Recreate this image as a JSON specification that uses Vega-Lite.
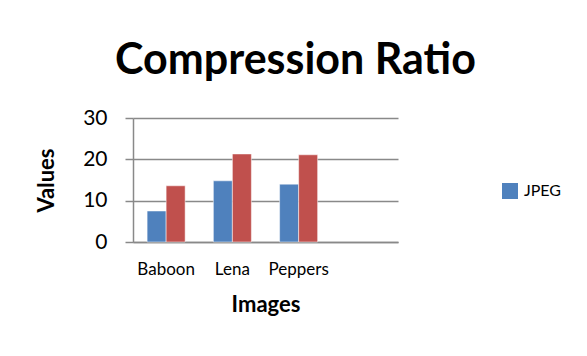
{
  "$schema": "https://vega.github.io/schema/vega-lite/v6.json",
  "autosize": "none",
  "width": 265,
  "height": 124,
  "padding": {"left": 133, "top": 118, "right": 189, "bottom": 114},
  "background": "white",
  "config": {
    "font": "Lato",
    "view": {"stroke": null}
  },
  "title": {
    "text": "Compression Ratio",
    "font": "Lato",
    "fontSize": 43,
    "fontWeight": "bold",
    "color": "#000000",
    "anchor": "middle",
    "dx": 30,
    "offset": 24
  },
  "data": {
    "values": [
      {"image": "Baboon", "series": "JPEG", "value": 7.5},
      {"image": "Baboon", "series": "Series2", "value": 13.6},
      {"image": "Lena", "series": "JPEG", "value": 14.8},
      {"image": "Lena", "series": "Series2", "value": 21.3},
      {"image": "Peppers", "series": "JPEG", "value": 14.0},
      {"image": "Peppers", "series": "Series2", "value": 21.1}
    ]
  },
  "mark": {"type": "bar", "strokeWidth": 0.5},
  "encoding": {
    "x": {
      "field": "image",
      "type": "nominal",
      "sort": null,
      "scale": {"domain": ["Baboon", "Lena", "Peppers", ""], "paddingInner": 0.426, "paddingOuter": 0.213},
      "axis": {
        "title": "Images",
        "titleFont": "Lato",
        "titleFontSize": 22,
        "titleFontWeight": "bold",
        "titleColor": "#000000",
        "titlePadding": 17,
        "labelFont": "Lato",
        "labelFontSize": 17,
        "labelColor": "#000000",
        "labelAngle": 0,
        "labelPadding": 19,
        "ticks": false,
        "domainColor": "#898989",
        "domainWidth": 1.5,
        "grid": false
      }
    },
    "xOffset": {
      "field": "series",
      "type": "nominal",
      "sort": ["JPEG", "Series2"],
      "scale": {"paddingInner": 0, "paddingOuter": 0}
    },
    "y": {
      "field": "value",
      "type": "quantitative",
      "scale": {"domain": [0, 30], "nice": false},
      "axis": {
        "values": [0, 10, 20, 30],
        "title": "Values",
        "titleFont": "Lato",
        "titleFontSize": 22,
        "titleFontWeight": "bold",
        "titleColor": "#000000",
        "titlePadding": 24,
        "labelFont": "Lato",
        "labelFontSize": 21,
        "labelColor": "#000000",
        "labelPadding": 18,
        "tickSize": 8,
        "tickColor": "#898989",
        "tickWidth": 1.5,
        "domainColor": "#898989",
        "domainWidth": 1.5,
        "gridColor": "#898989",
        "gridWidth": 1.5
      }
    },
    "color": {
      "field": "series",
      "type": "nominal",
      "scale": {"domain": ["JPEG", "Series2"], "range": ["#4F81BD", "#C0504D"]},
      "legend": {
        "values": ["JPEG"],
        "title": null,
        "orient": "none",
        "legendX": 369,
        "legendY": 65,
        "symbolType": "square",
        "symbolSize": 256,
        "symbolStrokeWidth": 0,
        "labelFont": "Lato",
        "labelFontSize": 16,
        "labelOffset": 6,
        "labelColor": "#000000"
      }
    },
    "stroke": {"value": "#ffffff"}
  }
}
